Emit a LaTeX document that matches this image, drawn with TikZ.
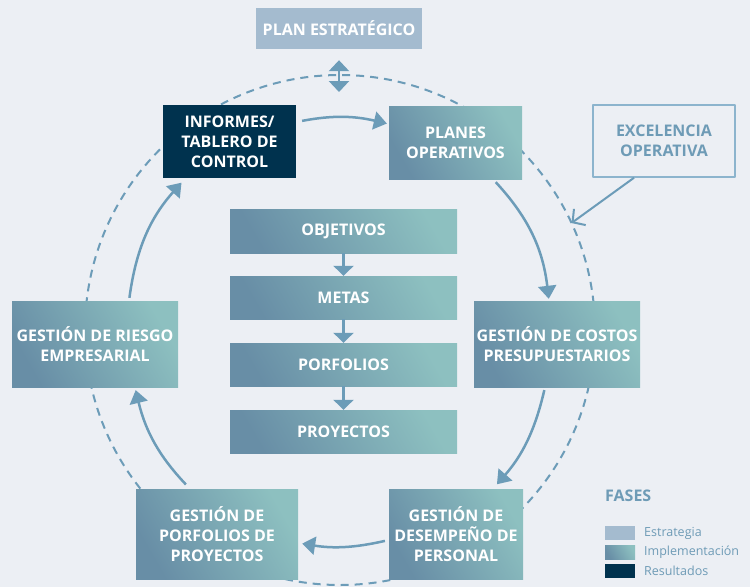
\documentclass[tikz,border=0pt]{standalone}
\usepackage{fontspec}
\setsansfont{Open Sans}
\usetikzlibrary{arrows.meta,calc}

\definecolor{pagebg}{RGB}{236,239,244}
\definecolor{ringblue}{RGB}{108,156,184}
\definecolor{stratblue}{RGB}{164,187,207}
\definecolor{resnavy}{RGB}{0,50,78}
\definecolor{implsteel}{RGB}{104,142,166}
\definecolor{implteal}{RGB}{141,192,192}
\definecolor{legendtxt}{RGB}{110,155,182}
\definecolor{excframe}{RGB}{140,180,205}

\tikzset{
  phase/.style={text=white, inner sep=0pt, align=center,
    font=\sffamily\bfseries\fontsize{16}{20}\selectfont},
  strat/.style={phase, fill=stratblue},
  result/.style={phase, fill=resnavy},
  impl/.style={phase, top color=implteal, bottom color=implsteel, shading angle=-60},
  flow/.style={draw=ringblue, line width=2.5pt, -{Triangle[width=18pt,length=13pt]}},
  chainarrow/.style={draw=ringblue, line width=2.5pt, -{Triangle[width=20pt,length=10pt]}},
}

\begin{document}
\begin{tikzpicture}[x=1pt, y=-1pt, line cap=butt, line join=round]

  % page
  \fill[pagebg] (0,0) rectangle (750,587);
  \useasboundingbox (0,0) rectangle (750,587);

  % dashed cycle
  \coordinate (ctr) at (340,330);
  \draw[ringblue, line width=2pt, dash pattern=on 8pt off 6pt] (ctr) circle[radius=255];
  \coordinate (ringtop) at (339,92);
  \coordinate (hit) at ($(ctr)+(-24.8:255)$);

  % strategy on top
  \node[strat, minimum width=166, minimum height=41] (plan) at (339,28.5) {PLAN ESTRATÉGICO};
  \draw[ringblue, line width=2.5pt, {Triangle[width=20pt,length=11pt]}-{Triangle[width=20pt,length=11pt]}]
    ([yshift=-11]plan.south) -- (ringtop);

  % cycle boxes
  \node[result, minimum width=133, minimum height=73] (inf) at (229.5,141.5) {INFORMES/\\TABLERO DE\\CONTROL};
  \node[impl, minimum width=133, minimum height=73] (plo) at (455.5,142.5) {PLANES\\OPERATIVOS};
  \node[impl, minimum width=166, minimum height=86] (cos) at (557,344) {GESTIÓN DE COSTOS\\PRESUPUESTARIOS};
  \node[impl, minimum width=134, minimum height=90] (des) at (456,534) {GESTIÓN DE\\DESEMPEÑO DE\\PERSONAL};
  \node[impl, minimum width=162, minimum height=90] (pdp) at (217,534) {GESTIÓN DE\\PORFOLIOS DE\\PROYECTOS};
  \node[impl, minimum width=166, minimum height=86] (rie) at (95,344) {GESTIÓN DE RIESGO\\EMPRESARIAL};

  % cycle arrows
  \draw[flow, shorten <=6pt, shorten >=2pt] ([yshift=19.5]inf.east) to[bend left=12] ([yshift=18.5]plo.west);
  \draw[flow, shorten <=4pt, shorten >=2pt] ([xshift=37.5]plo.south) to[bend left=18] ([xshift=-8]cos.north);
  \draw[flow, shorten <=3pt, shorten >=6pt] ([xshift=-12]cos.south) to[bend left=14] ([xshift=37]des.north);
  \draw[flow, shorten <=4pt, shorten >=4pt] ([yshift=-6]des.west) to[bend left=11] ([yshift=-9]pdp.east);
  \draw[flow, shorten <=6pt, shorten >=3pt] ([xshift=-27]pdp.north) to[bend left=15] ([xshift=40]rie.south);
  \draw[flow, shorten <=3pt, shorten >=6pt] ([xshift=34]rie.north) to[bend left=17] ([xshift=-44]inf.south);

  % centre chain
  \node[impl, minimum width=227, minimum height=44] (obj) at (343.5,231) {OBJETIVOS};
  \node[impl, minimum width=227, minimum height=43] (met) at (343.5,297.5) {METAS};
  \node[impl, minimum width=227, minimum height=43] (por) at (343.5,364.5) {PORFOLIOS};
  \node[impl, minimum width=227, minimum height=43] (pry) at (343.5,431.5) {PROYECTOS};
  \draw[chainarrow] (obj) -- (met);
  \draw[chainarrow] (met) -- (por);
  \draw[chainarrow] (por) -- (pry);

  % operational excellence
  \node[draw=excframe, line width=1.5pt, text=legendtxt, align=center,
        font=\sffamily\bfseries\fontsize{16}{20}\selectfont,
        minimum width=142, minimum height=72] (exc) at (664,141) {EXCELENCIA\\OPERATIVA};
  \draw[ringblue, line width=2pt, -{Straight Barb[length=9pt,width=20pt]}] ([xshift=-30]exc.south) -- (hit);

  % legend
  \node[anchor=west, text=legendtxt, font=\sffamily\bfseries\fontsize{16}{18}\selectfont, inner sep=0pt] (fases) at (605,496) {FASES};
  \node[fill=stratblue, minimum width=30, minimum height=14, inner sep=0pt] (swa) at (620,533) {};
  \node[impl, minimum width=30, minimum height=14] (swb) at (620,552) {};
  \node[fill=resnavy, minimum width=30, minimum height=14, inner sep=0pt] (swc) at (620,571) {};
  \node[anchor=west, text=legendtxt, font=\sffamily\fontsize{12.5}{14}\selectfont, inner sep=0pt] (lga) at (644,533) {Estrategia};
  \node[anchor=west, text=legendtxt, font=\sffamily\fontsize{12.5}{14}\selectfont, inner sep=0pt] (lgb) at (644,552) {Implementación};
  \node[anchor=west, text=legendtxt, font=\sffamily\fontsize{12.5}{14}\selectfont, inner sep=0pt] (lgc) at (644,571) {Resultados};

\end{tikzpicture}
\end{document}
